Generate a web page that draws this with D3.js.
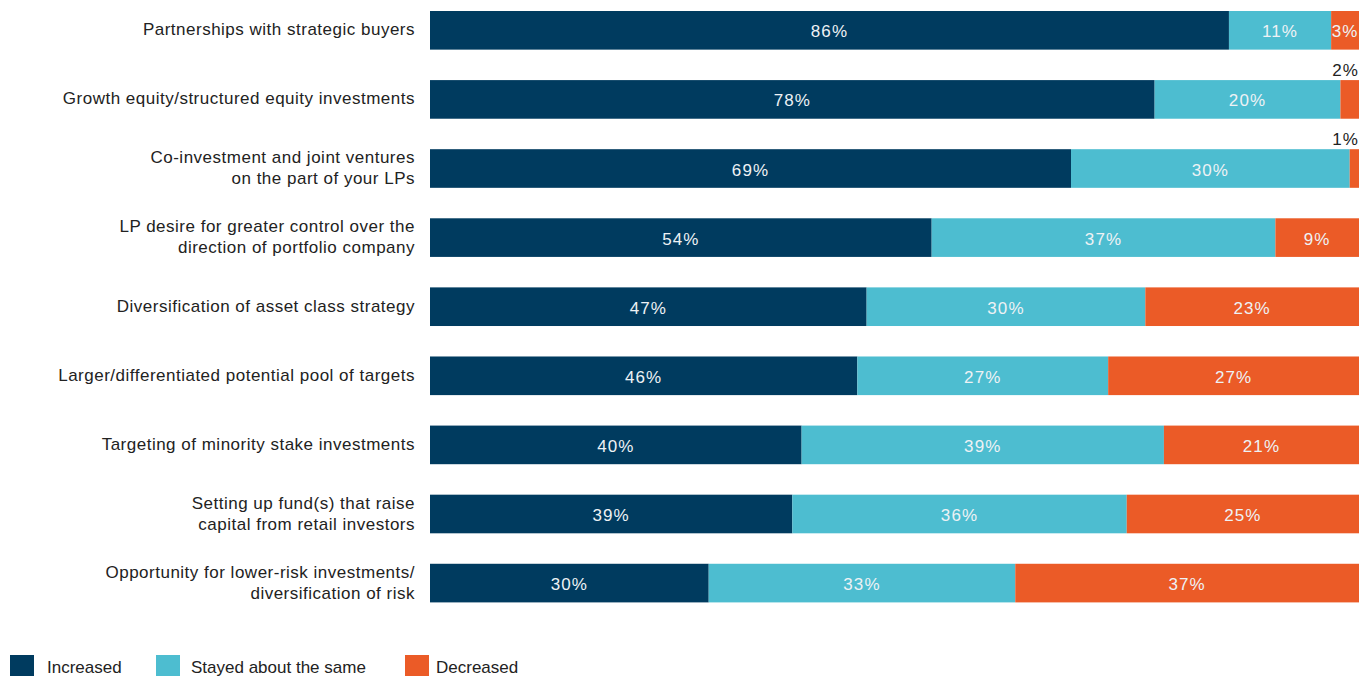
<!DOCTYPE html>
<html>
<head>
<meta charset="utf-8">
<script src="https://cdn.jsdelivr.net/npm/d3@7/dist/d3.min.js"></script>
<style>
  html, body { margin: 0; padding: 0; background: #fff; }
  svg { display: block; font-family: "Liberation Sans", Arial, sans-serif; }
</style>
</head>
<body>
<svg id="chart" width="1359" height="676"></svg>
<script>
// Survey categories (each may wrap onto two lines)
const categories = [
  ["Partnerships with strategic buyers"],
  ["Growth equity/structured equity investments"],
  ["Co-investment and joint ventures", "on the part of your LPs"],
  ["LP desire for greater control over the", "direction of portfolio company"],
  ["Diversification of asset class strategy"],
  ["Larger/differentiated potential pool of targets"],
  ["Targeting of minority stake investments"],
  ["Setting up fund(s) that raise", "capital from retail investors"],
  ["Opportunity for lower-risk investments/", "diversification of risk"]
];
const seriesNames = ["Increased", "Stayed about the same", "Decreased"];
const increased = [86, 78, 69, 54, 47, 46, 40, 39, 30];
const same      = [11, 20, 30, 37, 30, 27, 39, 36, 33];
const decreased = [3, 2, 1, 9, 23, 27, 21, 25, 37];
const colors = ["#003b5f", "#4dbdd0", "#eb5b27"];

const svg = d3.select("#chart");
const plotLeft = 430, plotRight = 1359, plotTop = 11, plotBottom = 602.4;

const rows = categories.map((c, i) => ({ i, label: c, vals: [increased[i], same[i], decreased[i]] }));

const x = d3.scaleLinear().domain([0, 100]).range([plotLeft, plotRight]);
const y = d3.scaleBand().domain(d3.range(categories.length))
  .range([plotTop, plotBottom]).paddingInner(0.441).paddingOuter(0);

// Stack the three answers
const stack = d3.stack().keys([0, 1, 2]).value((d, k) => d.vals[k]);
const stacked = stack(rows);

const g = svg.append("g");
stacked.forEach((layer, k) => {
  g.selectAll(null).data(layer).enter().append("rect")
    .attr("x", d => x(d[0]))
    .attr("y", (d, i) => y(i))
    .attr("width", d => x(d[1]) - x(d[0]))
    .attr("height", y.bandwidth())
    .attr("fill", colors[k]);

  // Value labels: inside the segment, or above the bar end when too thin
  const narrow = d => (x(d[1]) - x(d[0])) < 20;
  g.selectAll(null).data(layer).enter().append("text")
    .attr("x", d => narrow(d) ? plotRight : (x(d[0]) + x(d[1])) / 2)
    .attr("y", (d, i) => narrow(d) ? y(i) - 4 : y(i) + y.bandwidth() / 2 + 7)
    .attr("text-anchor", d => narrow(d) ? "end" : "middle")
    .attr("fill", d => narrow(d) ? "#222" : "#eef2f5")
    .attr("font-size", 17)
    .attr("letter-spacing", 1.1)
    .text(d => (d[1] - d[0]) + "%");
});

// Category labels on the left
const yAxis = d3.axisLeft(y).tickSize(0).tickPadding(15).tickFormat("");
const axisG = svg.append("g").attr("transform", `translate(${plotLeft},0)`).call(yAxis);
axisG.select(".domain").remove();
axisG.selectAll(".tick").each(function (i) {
  const lines = categories[i];
  const t = d3.select(this).append("text")
    .attr("text-anchor", "end")
    .attr("fill", "#222")
    .attr("font-size", 17)
    .attr("letter-spacing", 0.5)
    .attr("font-family", "Liberation Sans, Arial, sans-serif");
  const lh = 21;
  const start = lines.length === 1 ? 5 : -5.3;
  lines.forEach((ln, j) => {
    t.append("tspan").attr("x", -15).attr("y", start + j * lh).text(ln);
  });
});

// Legend
const legendX = [10, 156, 405];
const legendTextX = [47, 191, 436];
const lg = svg.append("g");
seriesNames.forEach((n, k) => {
  lg.append("rect").attr("x", legendX[k]).attr("y", 655).attr("width", 24).attr("height", 24).attr("fill", colors[k]);
  lg.append("text").attr("x", legendTextX[k]).attr("y", 673).attr("font-size", 17).attr("fill", "#222").text(n);
});
</script>
</body>
</html>
